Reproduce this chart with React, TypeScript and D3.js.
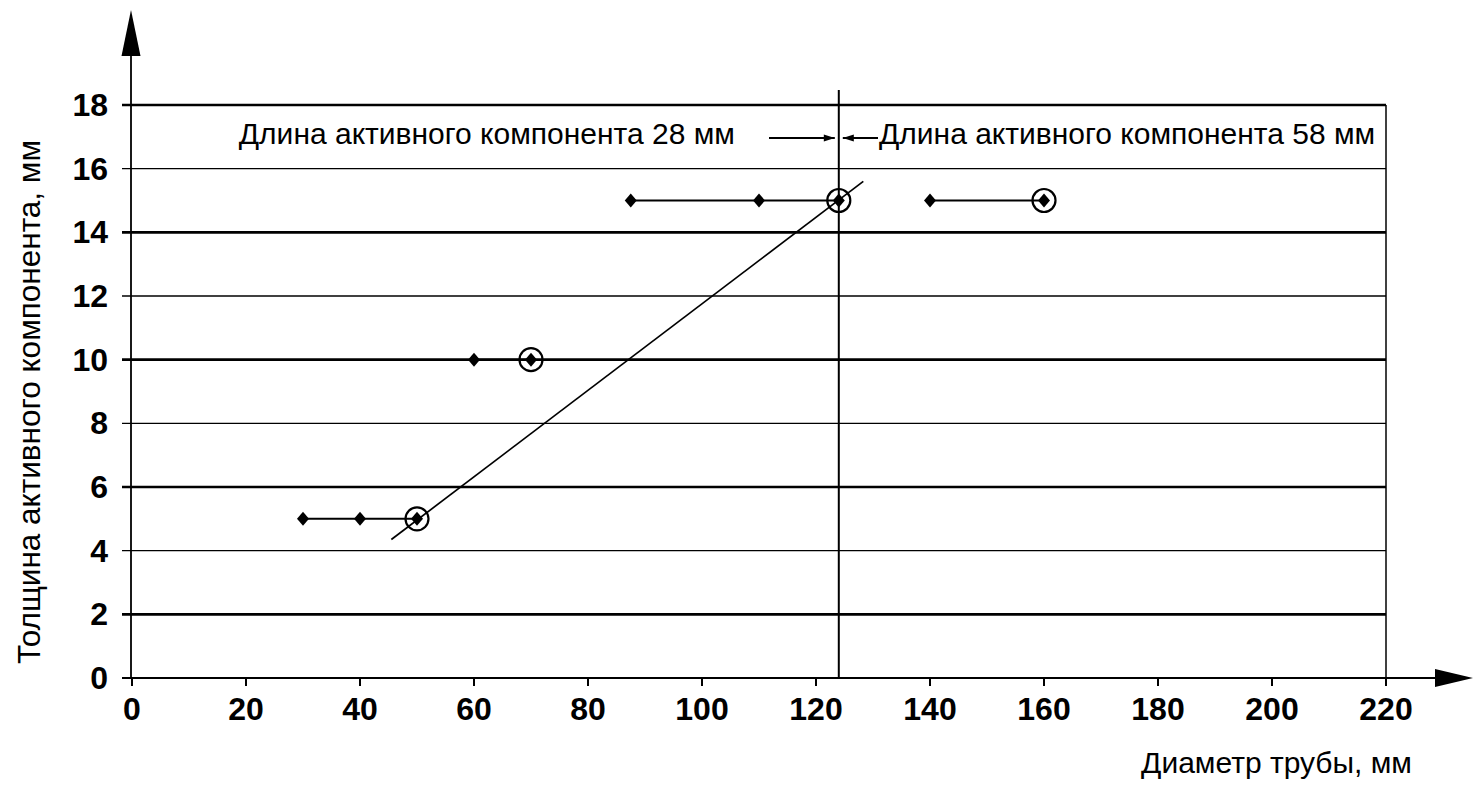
import React from "react";
import * as d3 from "d3";

const xTicks = [0, 20, 40, 60, 80, 100, 120, 140, 160, 180, 200, 220];
const yTicks = [0, 2, 4, 6, 8, 10, 12, 14, 16, 18];
const thickGrid = [2, 6, 10, 14, 18];

// segments of test results (diameter, thickness)
const seg5 = [30, 40, 50];
const seg10 = [60, 70];
const seg15a = [87.5, 110, 124];
const seg15b = [140, 160];
const circled = [
  [50, 5],
  [70, 10],
  [124, 15],
  [160, 15],
];
const trend = [
  [45.5, 4.35],
  [128.3, 15.6],
];
const boundaryX = 124;

const W = 1473;
const H = 785;
const FONT = "'Liberation Sans', Arial, sans-serif";

export default function App() {
  const x = d3.scaleLinear().domain([0, 220]).range([132, 1386]);
  const y = d3.scaleLinear().domain([0, 18]).range([678, 105]);
  const line = d3
    .line<number[]>()
    .x((d) => x(d[0]))
    .y((d) => y(d[1]));

  const series: [number[], number][] = [
    [seg5, 5],
    [seg10, 10],
    [seg15a, 15],
    [seg15b, 15],
  ];

  const diamond = (cx: number, cy: number, rx = 6, ry = 7) =>
    `M${cx},${cy - ry}L${cx + rx},${cy}L${cx},${cy + ry}L${cx - rx},${cy}Z`;

  const annY = 138;
  const bx = x(boundaryX);

  return (
    <svg width={W} height={H} style={{ position: "absolute", left: 0, top: 0, background: "#fff" }}>
      <rect width={W} height={H} fill="#fff" />
      {/* grid lines */}
      {yTicks
        .filter((t) => t > 0)
        .map((t) => (
          <line
            key={t}
            x1={x(0) - 10}
            x2={x(220)}
            y1={y(t)}
            y2={y(t)}
            stroke="#000"
            strokeWidth={thickGrid.includes(t) ? 2.6 : 1.3}
          />
        ))}
      {/* right border */}
      <line x1={x(220)} x2={x(220)} y1={y(18)} y2={y(0)} stroke="#000" strokeWidth={1.5} />
      {/* x axis */}
      <line x1={x(0) - 10} x2={1440} y1={y(0)} y2={y(0)} stroke="#000" strokeWidth={1.8} />
      <path d={`M1435,${y(0) - 9}L1473,${y(0)}L1435,${y(0) + 9}Z`} fill="#000" />
      {xTicks.map((t) => (
        <g key={t}>
          <line x1={x(t)} x2={x(t)} y1={y(0)} y2={y(0) + 8} stroke="#000" strokeWidth={2} />
          <text
            x={x(t)}
            y={720}
            textAnchor="middle"
            fontFamily={FONT}
            fontWeight="bold"
            fontSize={32}
          >
            {t}
          </text>
        </g>
      ))}
      {/* y axis */}
      <line x1={x(0) - 1} x2={x(0) - 1} y1={y(0)} y2={52} stroke="#000" strokeWidth={1.8} />
      <path d={`M${x(0) - 10.5},56L${x(0) - 1},10L${x(0) + 8.5},56Z`} fill="#000" />
      {yTicks.map((t) => (
        <text
          key={t}
          x={108}
          y={y(t) + 11}
          textAnchor="end"
          fontFamily={FONT}
          fontWeight="bold"
          fontSize={32}
        >
          {t}
        </text>
      ))}
      {/* boundary vertical line */}
      <line x1={bx} x2={bx} y1={90} y2={y(0)} stroke="#000" strokeWidth={2} />
      {/* trend line */}
      <path d={line(trend) || ""} stroke="#000" strokeWidth={1.7} fill="none" />
      {/* data segments */}
      {series.map(([xs, v], i) => (
        <g key={i}>
          <path
            d={line(xs.map((xv) => [xv, v])) || ""}
            stroke="#000"
            strokeWidth={2}
            fill="none"
          />
          {xs.map((xv) => (
            <path key={xv} d={diamond(x(xv), y(v))} fill="#000" />
          ))}
        </g>
      ))}
      {circled.map(([cx, cy], i) => (
        <circle key={i} cx={x(cx)} cy={y(cy)} r={11.5} fill="none" stroke="#000" strokeWidth={2.2} />
      ))}
      {/* annotation */}
      <text x={735} y={annY + 6} textAnchor="end" fontFamily={FONT} fontSize={30}>
        Длина активного компонента 28 мм
      </text>
      <line x1={769} x2={bx - 4} y1={annY} y2={annY} stroke="#000" strokeWidth={2} />
      <path d={`M${bx - 15},${annY - 3.5}L${bx - 4},${annY}L${bx - 15},${annY + 3.5}Z`} fill="#000" />
      <line x1={bx + 4} x2={878} y1={annY} y2={annY} stroke="#000" strokeWidth={2} />
      <path d={`M${bx + 15},${annY - 3.5}L${bx + 4},${annY}L${bx + 15},${annY + 3.5}Z`} fill="#000" />
      <text x={879} y={annY + 6} fontFamily={FONT} fontSize={30}>
        Длина активного компонента 58 мм
      </text>
      {/* axis titles */}
      <text
        transform={`translate(40,${402}) rotate(-90)`}
        textAnchor="middle"
        fontFamily={FONT}
        fontSize={31.5}
      >
        Толщина активного компонента, мм
      </text>
      <text x={1412} y={773} textAnchor="end" fontFamily={FONT} fontSize={30}>
        Диаметр трубы, мм
      </text>
    </svg>
  );
}
